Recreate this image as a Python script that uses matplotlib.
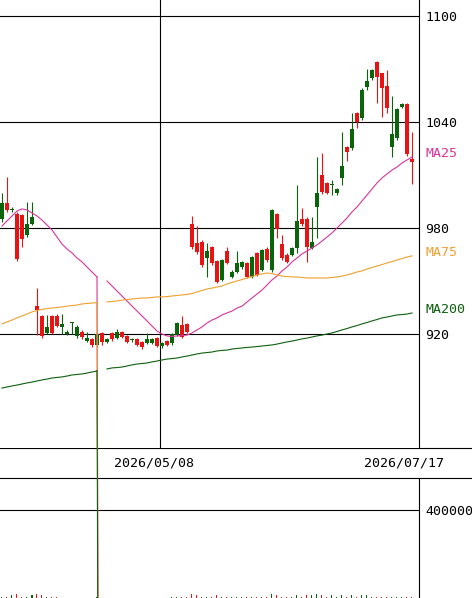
import numpy as np
import matplotlib
matplotlib.use("Agg")
import matplotlib.pyplot as plt
from matplotlib.lines import Line2D
from matplotlib.transforms import blended_transform_factory

# daily candles (oldest -> newest)
opens = [985.1, 994.2, 990.0, 987.9, 987.4, 976.0, 982.3, 935.9, 930.2, 920.6,
         930.2, 930.2, 924.0, 920.0, 926.2, 918.9, 921.1, 916.0, 917.2, 913.8,
         920.6, 915.5, 920.6, 917.7, 921.1, 918.9, 916.4, 917.2, 915.5, 914.9,
         914.9, 917.7, 913.2, 916.0, 914.9, 919.4, 925.1, 925.7, 982.3, 971.5,
         972.1, 963.0, 969.3, 961.3, 950.6, 967.0, 952.3, 955.1, 957.9, 960.2,
         952.3, 965.9, 956.2, 968.1, 956.2, 988.0, 970.9, 964.7, 964.7, 968.7,
         985.1, 985.1, 968.7, 991.9, 1010.0, 1005.5, 1004.3, 999.8, 1008.3, 1025.9,
         1025.3, 1045.1, 1042.3, 1059.8, 1064.9, 1074.0, 1067.7, 1060.4, 1025.9, 1031.0,
         1048.5, 1050.2, 1019.1]
highs = [999.8, 1009.0, 992.0, 989.0, 988.0, 994.7, 994.7, 946.0, 931.0, 930.8,
         931.0, 931.3, 931.3, 922.0, 926.8, 925.0, 922.0, 921.0, 918.0, 921.0,
         921.0, 918.0, 921.0, 922.8, 921.5, 919.5, 918.0, 918.0, 916.0, 920.6,
         918.0, 918.5, 915.5, 916.5, 920.6, 927.0, 930.2, 926.5, 986.8, 981.1,
         973.0, 971.5, 970.0, 962.0, 962.5, 969.3, 956.0, 967.0, 961.5, 961.0,
         964.0, 966.5, 968.0, 969.3, 991.0, 988.5, 976.0, 966.0, 969.5, 1004.3,
         991.3, 986.0, 986.2, 1020.2, 1022.5, 1006.0, 1007.2, 1002.5, 1034.3, 1026.5,
         1045.1, 1045.5, 1059.0, 1070.0, 1070.0, 1074.5, 1068.0, 1069.4, 1055.0, 1048.0,
         1050.8, 1050.5, 1034.3]
lows = [983.4, 989.0, 989.0, 961.3, 969.3, 975.0, 981.5, 919.4, 918.0, 920.0,
        920.0, 924.0, 920.0, 919.4, 920.0, 918.0, 917.0, 915.5, 912.6, 913.0,
        914.0, 915.0, 916.0, 917.0, 917.5, 915.0, 915.5, 913.0, 911.5, 914.5,
        914.5, 912.5, 912.1, 913.0, 914.0, 918.9, 917.5, 920.5, 968.0, 965.5,
        958.0, 952.3, 959.0, 949.0, 950.0, 959.5, 951.5, 954.5, 957.0, 951.5,
        951.5, 953.0, 955.5, 961.0, 955.0, 974.3, 962.0, 960.0, 964.0, 965.9,
        981.0, 960.8, 968.0, 974.3, 999.0, 999.0, 998.7, 998.7, 1004.3, 1017.9,
        1024.0, 1036.6, 1041.0, 1058.1, 1064.0, 1050.8, 1042.8, 1045.1, 1020.0, 1030.0,
        1048.0, 1021.0, 1004.9]
closes = [994.2, 990.2, 991.0, 962.5, 973.8, 982.3, 986.2, 933.6, 918.9, 924.0,
          920.6, 924.8, 925.7, 921.1, 926.5, 924.0, 918.3, 917.7, 913.8, 920.0,
          915.5, 917.2, 917.2, 921.1, 918.3, 915.5, 916.8, 913.8, 912.7, 917.2,
          917.2, 913.2, 914.9, 913.8, 920.0, 926.2, 918.3, 921.1, 969.3, 966.4,
          959.1, 967.0, 960.2, 949.4, 961.9, 960.2, 955.1, 960.2, 960.8, 952.3,
          963.6, 953.4, 967.6, 961.9, 990.2, 979.4, 963.0, 960.8, 968.7, 984.0,
          982.0, 969.3, 972.1, 999.8, 1000.4, 999.8, 1004.6, 1002.1, 1015.1, 1023.0,
          1036.0, 1040.0, 1058.1, 1063.2, 1069.4, 1065.5, 1059.2, 1047.9, 1033.2, 1047.4,
          1050.2, 1021.9, 1017.4]
volumes = [3000, 2500, 14000, 17000, 4000, 3000, 13000, 19000, 15000, 4000,
           3000, 2500, 2000, 2000, 1500, 2000, 2000, 1500, 2000, 2500,
           2000, 1500, 1500, 2000, 1500, 2000, 1500, 1500, 2000, 2000,
           1500, 2000, 1500, 1500, 2500, 3000, 3500, 2500, 16000, 13000,
           4000, 3500, 3000, 12000, 3500, 3000, 2500, 3000, 2500, 3000,
           2500, 3000, 3000, 3500, 17000, 13000, 4000, 3000, 3500, 15000,
           4000, 12000, 12000, 16000, 14000, 4500, 12000, 4000, 13000, 4500,
           14000, 4000, 15000, 12000, 4500, 4000, 3500, 4000, 3500, 3000,
           3000, 3500, 3000]

# moving averages as plotted (0 = the day the feed has no value)
ma25 = [981.1, 984.0, 986.8, 989.6, 990.8, 990.2, 988.5, 986.8, 984.5, 981.7,
        978.9, 974.9, 970.9, 968.1, 965.9, 963.0, 960.8, 957.9, 955.1, 952.3,
        0, 950.0, 947.2, 944.3, 941.5, 938.7, 935.8, 933.0, 930.2, 927.4,
        924.5, 921.7, 920.0, 918.9, 918.6, 918.9, 919.2, 919.4, 920.6, 922.3,
        924.0, 926.2, 927.9, 929.1, 930.8, 931.9, 933.0, 934.7, 935.8, 938.1,
        940.4, 942.6, 944.9, 947.7, 950.6, 952.8, 955.7, 957.9, 960.8, 963.0,
        965.3, 967.0, 968.7, 970.4, 972.6, 974.9, 977.2, 980.0, 982.8, 985.7,
        989.1, 991.9, 995.3, 998.7, 1002.1, 1005.5, 1008.3, 1010.6, 1012.8, 1014.5,
        1016.8, 1018.5, 1020.2]
ma75 = [925.7, 926.8, 927.9, 929.1, 930.2, 931.3, 932.5, 933.3, 933.9, 934.4,
        934.7, 935.0, 935.3, 935.8, 936.1, 936.4, 937.0, 937.3, 937.5, 937.8,
        0, 938.1, 938.4, 938.7, 939.2, 939.5, 939.8, 940.1, 940.4, 940.4,
        940.7, 941.0, 941.0, 941.2, 941.5, 941.8, 942.1, 942.4, 942.9, 943.8,
        944.6, 945.5, 946.0, 946.6, 947.2, 948.3, 949.2, 950.0, 950.8, 951.7,
        952.5, 953.4, 954.0, 954.5, 954.2, 953.4, 952.8, 952.5, 952.3, 952.3,
        952.0, 951.7, 951.7, 951.7, 951.7, 951.7, 952.0, 952.3, 952.8, 953.4,
        954.2, 955.1, 955.7, 956.8, 957.6, 958.5, 959.3, 960.2, 961.0, 961.9,
        962.7, 963.6, 964.2]
ma200 = [889.4, 890.0, 890.6, 891.1, 891.7, 892.3, 892.8, 893.4, 894.0, 894.5,
         895.1, 895.4, 895.7, 896.2, 896.8, 897.1, 897.4, 897.9, 898.5, 899.1,
         0, 900.2, 900.8, 901.0, 901.3, 901.9, 902.5, 903.0, 903.3, 903.6,
         904.2, 904.7, 905.3, 905.8, 906.1, 906.4, 907.0, 907.5, 908.1, 908.7,
         909.2, 909.5, 909.8, 910.4, 910.7, 910.9, 911.5, 911.8, 912.1, 912.4,
         912.6, 912.9, 913.2, 913.5, 913.8, 914.3, 914.9, 915.5, 916.0, 916.6,
         917.2, 917.7, 918.3, 918.9, 919.4, 920.0, 920.6, 921.4, 922.3, 923.1,
         924.0, 924.8, 925.7, 926.5, 927.4, 928.2, 929.1, 929.6, 930.2, 930.8,
         931.0, 931.3, 931.9]

price_ticks = [920, 980, 1040, 1100]
vol_ticks = [400000]
date_labels = ["2026/05/08", "2026/07/17"]
date_pos = [32, 82]

UP = "#0a640a"
DOWN = "#e81414"
MA_COLORS = {"MA25": "#d8349c", "MA75": "#f0a030", "MA200": "#0f5f0f"}
FONT = "DejaVu Sans Mono"

W, H = 472, 598
fig = plt.figure(figsize=(W / 100, H / 100), dpi=100)
axv = fig.add_axes([0, 0, 419 / W, 120 / H])
ax = fig.add_axes([0, 150 / H, 419 / W, 448 / H])
ax.set_zorder(2)
axv.patch.set_visible(False)

n = len(closes)
idx = np.arange(n)
o, hi, lo, c = map(np.array, (opens, highs, lows, closes))
col = np.where(c >= o, UP, DOWN)

# candles
ax.vlines(idx, lo, hi, colors=col, lw=0.8, zorder=3)
ax.bar(idx, np.maximum(np.abs(c - o), 0.6), bottom=np.minimum(o, c),
       width=0.8, color=col, lw=0, zorder=3)

# moving averages
for name, vals in (("MA25", ma25), ("MA75", ma75), ("MA200", ma200)):
    v = np.array(vals, float)
    ax.plot(idx, np.where(v > 0, v, np.nan), color=MA_COLORS[name], lw=0.8, zorder=4)
    for k in np.where(v == 0)[0]:
        ax.plot([k - 1, k], [v[k - 1], 0], color=MA_COLORS[name], lw=0.8,
                zorder=4, clip_on=False)
    ax.annotate(name, xy=(1, v[-1]), xycoords=("axes fraction", "data"),
                xytext=(6, 3), textcoords="offset pixels", va="center", ha="left",
                color=MA_COLORS[name], fontsize=9.5, family=FONT, annotation_clip=False)

ax.set_xlim(-0.4, n + 0.4)
ax.set_ylim(855.47, 1109.06)
ax.set_yticks(price_ticks)
ax.yaxis.tick_right()
ax.set_xticks([])
ax.grid(axis="y", color="black", lw=0.8)
ax.axvline(date_pos[0] - 0.4, color="black", lw=0.8)
ax.tick_params(axis="y", length=0, pad=4.3, labelsize=9.5)
for sp in ("top", "left", "bottom"):
    ax.spines[sp].set_visible(False)
ax.spines["right"].set_linewidth(0.8)

# volume
axv.bar(idx, volumes, width=0.2, color=col, lw=0)
axv.set_xlim(ax.get_xlim())
axv.set_ylim(0, 545455)
axv.set_yticks(vol_ticks)
axv.yaxis.tick_right()
axv.set_xticks([])
axv.grid(axis="y", color="black", lw=0.8)
axv.tick_params(axis="y", length=0, pad=4.3, labelsize=9.5)
for sp in ("top", "left", "bottom"):
    axv.spines[sp].set_visible(False)
axv.spines["right"].set_linewidth(0.8)

for a in (ax, axv):
    for t in a.get_yticklabels():
        t.set_family(FONT)

# date band
for yy in (448, 478):
    fig.add_artist(Line2D([0, 1], [1 - yy / H] * 2, color="black", lw=0.8))
trans = blended_transform_factory(ax.transData, fig.transFigure)
for lab, pos in zip(date_labels, date_pos):
    fig.text(pos - 1.6, 1 - 463 / H, lab, transform=trans, ha="center", va="center",
             fontsize=9.5, family=FONT)

fig.savefig("out.png", dpi=100)
